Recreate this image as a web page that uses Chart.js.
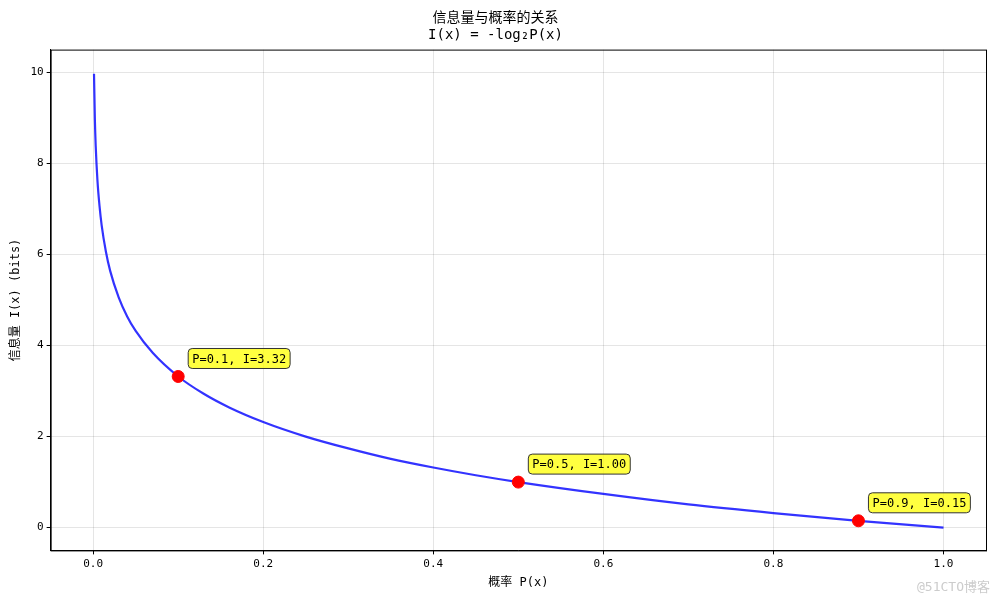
<!DOCTYPE html>
<html><head><meta charset="utf-8">
<script src="https://cdn.jsdelivr.net/npm/chart.js@4/dist/chart.umd.min.js"></script>
<style>html,body{margin:0;background:#fff}#w{width:1000px;height:600px;position:relative}</style>
</head><body><div id="w"><canvas id="c" width="1000" height="600"></canvas></div>
<script>
const probX = [0.001,0.002,0.003,0.005,0.0075,0.01,0.015,0.02,0.03,0.04,0.05,0.07,0.1,0.13,0.16,0.2,0.25,0.3,0.35,0.4,0.45,0.5,0.6,0.7,0.8,0.9,1.0];
const infoY = [9.97,8.97,8.38,7.64,7.06,6.64,6.06,5.64,5.06,4.64,4.32,3.84,3.32,2.94,2.64,2.32,2.00,1.74,1.51,1.32,1.15,1.00,0.74,0.51,0.32,0.15,0.0];
const markX = [0.1,0.5,0.9];
const markY = [3.32,1.00,0.15];
const markLabels = ['P=0.1, I=3.32','P=0.5, I=1.00','P=0.9, I=0.15'];
const F = '"DejaVu Sans Mono", "Noto Sans CJK SC", monospace';

const annot = {
  id:'annot',
  afterDatasetsDraw(chart){
    const {ctx, scales:{x,y}} = chart;
    ctx.save();
    ctx.font = '12px '+F;
    markX.forEach((mx,i)=>{
      const px = x.getPixelForValue(mx)+10, py = y.getPixelForValue(markY[i])-18;
      const t = markLabels[i], w = ctx.measureText(t).width+8, h = 20;
      ctx.beginPath();
      ctx.roundRect(px, py-h/2, w, h, 4);
      ctx.fillStyle='rgba(255,255,0,0.75)'; ctx.fill();
      ctx.strokeStyle='#333'; ctx.lineWidth=1; ctx.stroke();
      ctx.fillStyle='#000'; ctx.textBaseline='middle';
      ctx.fillText(t, px+4, py+1);
    });
    const a = chart.chartArea;
    ctx.strokeStyle='#000'; ctx.lineWidth=1;
    ctx.strokeRect(a.left+0.5,a.top+0.5,a.right-a.left,a.bottom-a.top);
    ctx.font='13px '+F; ctx.fillStyle='#ccc'; ctx.textAlign='right';
    ctx.fillText('@51CTO博客', 990, 588);
    ctx.restore();
  }
};

new Chart(document.getElementById('c'),{
  type:'scatter',
  data:{datasets:[
    {data:markX.map((v,i)=>({x:v,y:markY[i]})),showLine:false,pointRadius:6,pointBackgroundColor:'#ff0000',pointBorderColor:'#ff0000'},
    {data:probX.map((v,i)=>({x:v,y:infoY[i]})),showLine:true,borderColor:'rgba(0,0,255,0.8)',borderWidth:2.2,pointRadius:0,cubicInterpolationMode:'monotone'}
  ]},
  options:{
    responsive:false,animation:false,devicePixelRatio:1,
    layout:{padding:{left:5,right:14,top:0,bottom:6}},
    plugins:{legend:{display:false},tooltip:{enabled:false},
      title:{display:true,text:['信息量与概率的关系','I(x) = -log₂P(x)'],font:{family:F,size:14,weight:'normal'},color:'#000',padding:{top:10,bottom:6},lineHeight:1.2}},
    scales:{
      x:{type:'linear',min:-0.05,max:1.05,afterBuildTicks:s=>{s.ticks=[0,0.2,0.4,0.6,0.8,1.0].map(v=>({value:v}));},
        ticks:{callback:v=>v.toFixed(1),color:'#000',font:{family:F,size:11}},
        grid:{color:'rgba(0,0,0,0.1)',tickColor:'#000',tickLength:4},border:{color:'#000'},
        title:{display:true,text:'概率 P(x)',color:'#000',font:{family:F,size:12},padding:{top:2}}},
      y:{min:-0.5,max:10.5,afterBuildTicks:s=>{s.ticks=[0,2,4,6,8,10].map(v=>({value:v}));},
        ticks:{color:'#000',font:{family:F,size:11}},
        grid:{color:'rgba(0,0,0,0.1)',tickColor:'#000',tickLength:4},border:{color:'#000'},
        title:{display:true,text:'信息量 I(x) (bits)',color:'#000',font:{family:F,size:12}}}
    }
  },
  plugins:[annot]
});
</script></body></html>
